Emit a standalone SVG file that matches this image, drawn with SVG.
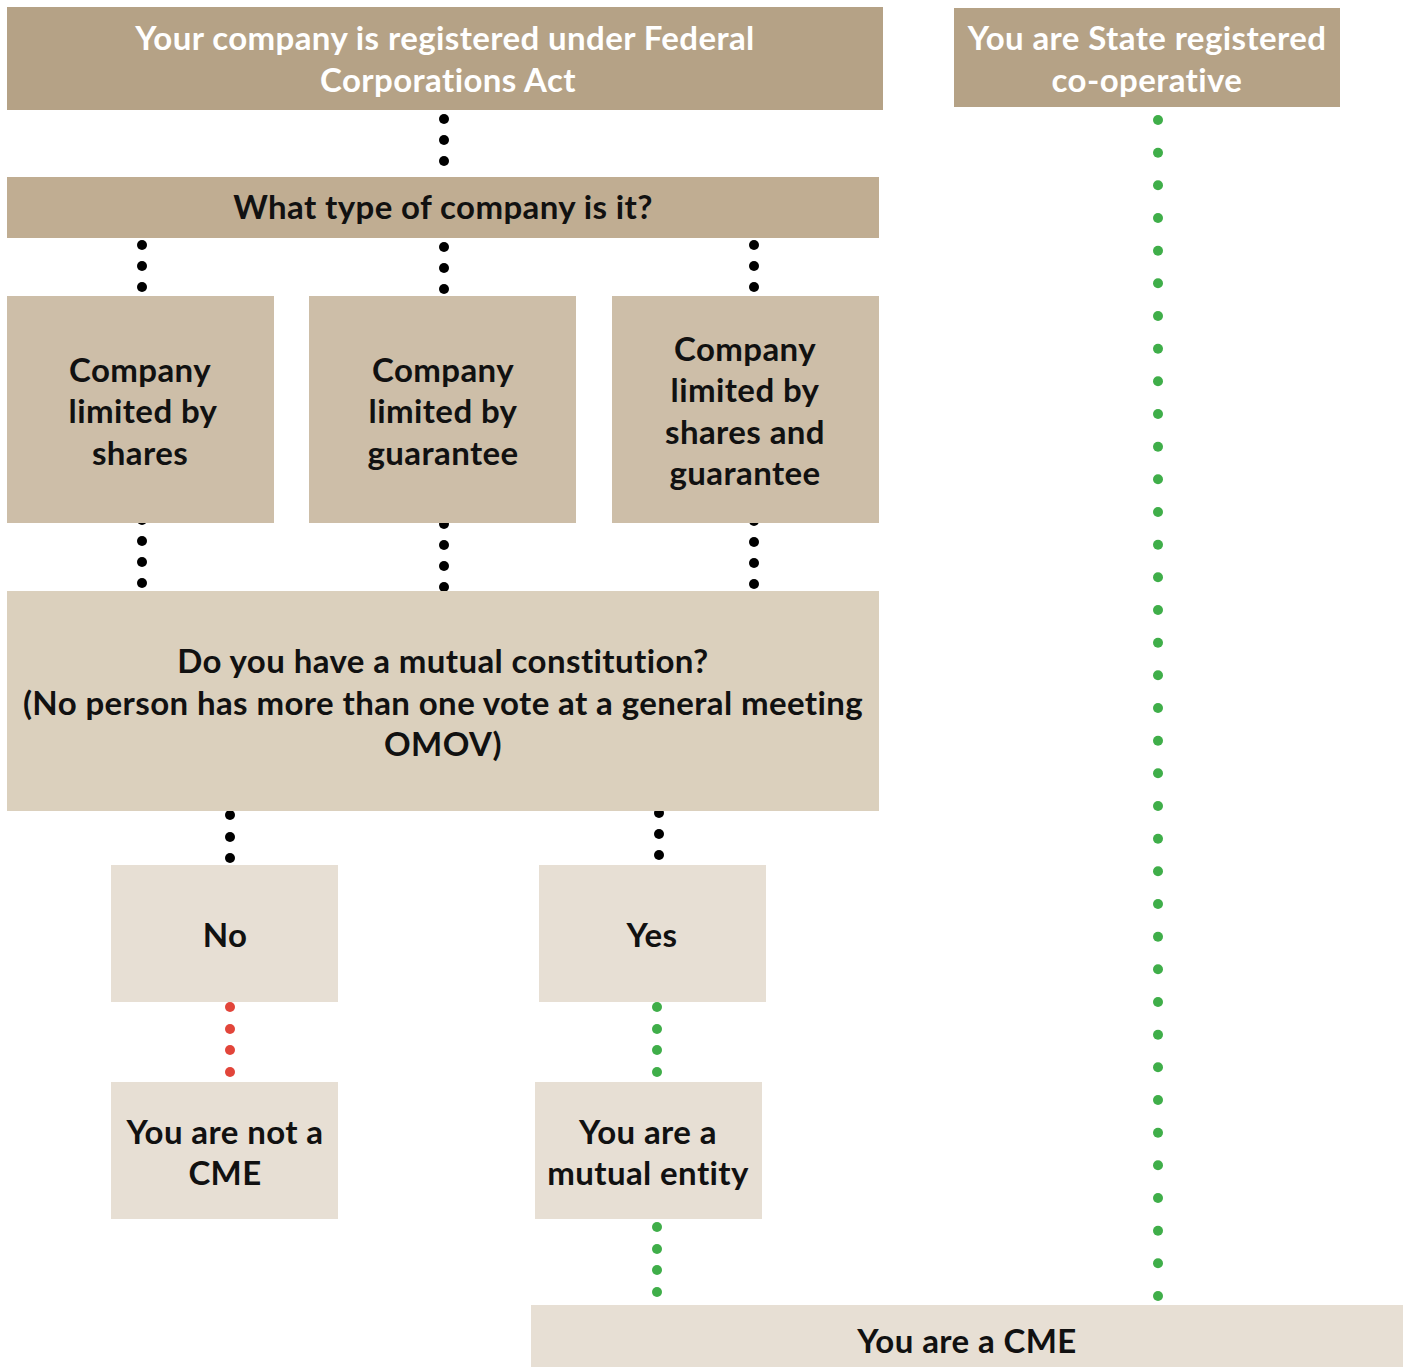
<svg xmlns="http://www.w3.org/2000/svg" width="1407" height="1367" viewBox="0 0 1407 1367">
<style>
text{font-family:Lato,"Open Sans","Liberation Sans",sans-serif;font-weight:bold;font-size:33px;letter-spacing:0.4px;text-anchor:middle;fill:#111}
.w{fill:#fff}
.c1{fill:#b5a286}.c2{fill:#c0ad92}.c3{fill:#cdbea8}.c4{fill:#dbd0bd}.c5{fill:#e7dfd4}
.k{fill:#000}.g{fill:#3fae49}.r{fill:#e2453a}
</style>
<rect width="1407" height="1367" fill="#fff"/>
<g id="connectors">
<g class="k">
<circle cx="444" cy="119" r="5"/><circle cx="444" cy="140" r="5"/><circle cx="444" cy="161" r="5"/>
<circle cx="142" cy="245" r="5"/><circle cx="142" cy="266" r="5"/><circle cx="142" cy="287" r="5"/>
<circle cx="444" cy="247" r="5"/><circle cx="444" cy="268" r="5"/><circle cx="444" cy="289" r="5"/>
<circle cx="754" cy="245" r="5"/><circle cx="754" cy="266" r="5"/><circle cx="754" cy="287" r="5"/>
<circle cx="142" cy="520" r="5"/><circle cx="142" cy="541" r="5"/><circle cx="142" cy="562" r="5"/><circle cx="142" cy="583" r="5"/>
<circle cx="444" cy="524" r="5"/><circle cx="444" cy="545" r="5"/><circle cx="444" cy="566" r="5"/><circle cx="444" cy="587" r="5"/>
<circle cx="754" cy="521" r="5"/><circle cx="754" cy="542" r="5"/><circle cx="754" cy="563" r="5"/><circle cx="754" cy="584" r="5"/>
<circle cx="230" cy="815" r="5"/><circle cx="230" cy="837" r="5"/><circle cx="230" cy="858" r="5"/>
<circle cx="659" cy="813" r="5"/><circle cx="659" cy="834" r="5"/><circle cx="659" cy="855" r="5"/>
</g>
<g class="r">
<circle cx="230" cy="1007" r="5"/><circle cx="230" cy="1029" r="5"/><circle cx="230" cy="1050" r="5"/><circle cx="230" cy="1072" r="5"/>
</g>
<g class="g">
<circle cx="657" cy="1007" r="5"/><circle cx="657" cy="1029" r="5"/><circle cx="657" cy="1050" r="5"/><circle cx="657" cy="1072" r="5"/>
<circle cx="657" cy="1227" r="5"/><circle cx="657" cy="1249" r="5"/><circle cx="657" cy="1270" r="5"/><circle cx="657" cy="1292" r="5"/>
<circle cx="1158" cy="120" r="5"/><circle cx="1158" cy="152.7" r="5"/><circle cx="1158" cy="185.3" r="5"/><circle cx="1158" cy="218" r="5"/><circle cx="1158" cy="250.7" r="5"/><circle cx="1158" cy="283.3" r="5"/><circle cx="1158" cy="316" r="5"/><circle cx="1158" cy="348.7" r="5"/><circle cx="1158" cy="381.3" r="5"/><circle cx="1158" cy="414" r="5"/><circle cx="1158" cy="446.7" r="5"/><circle cx="1158" cy="479.3" r="5"/><circle cx="1158" cy="512" r="5"/><circle cx="1158" cy="544.7" r="5"/><circle cx="1158" cy="577.3" r="5"/><circle cx="1158" cy="610" r="5"/><circle cx="1158" cy="642.7" r="5"/><circle cx="1158" cy="675.3" r="5"/><circle cx="1158" cy="708" r="5"/><circle cx="1158" cy="740.7" r="5"/><circle cx="1158" cy="773.3" r="5"/><circle cx="1158" cy="806" r="5"/><circle cx="1158" cy="838.7" r="5"/><circle cx="1158" cy="871.3" r="5"/><circle cx="1158" cy="904" r="5"/><circle cx="1158" cy="936.7" r="5"/><circle cx="1158" cy="969.3" r="5"/><circle cx="1158" cy="1002" r="5"/><circle cx="1158" cy="1034.7" r="5"/><circle cx="1158" cy="1067.3" r="5"/><circle cx="1158" cy="1100" r="5"/><circle cx="1158" cy="1132.7" r="5"/><circle cx="1158" cy="1165.3" r="5"/><circle cx="1158" cy="1198" r="5"/><circle cx="1158" cy="1230.7" r="5"/><circle cx="1158" cy="1263.3" r="5"/><circle cx="1158" cy="1296" r="5"/>
</g>
</g>
<g id="federal"><rect class="c1" x="7" y="7" width="876" height="103"/><text class="w" x="445" y="50">Your company is registered under Federal</text><text class="w" x="448" y="92">Corporations Act</text></g>
<g id="state"><rect class="c1" x="954" y="8" width="386" height="99"/><text class="w" x="1147" y="50">You are State registered</text><text class="w" x="1147" y="92">co-operative</text></g>
<g id="type"><rect class="c2" x="7" y="177" width="872" height="61"/><text x="443" y="219">What type of company is it?</text></g>
<g id="shares"><rect class="c3" x="7" y="296" width="267" height="227"/><text x="140" y="382">Company</text><text x="143" y="423">limited by</text><text x="140" y="465">shares</text></g>
<g id="guarantee"><rect class="c3" x="309" y="296" width="267" height="227"/><text x="443" y="382">Company</text><text x="443" y="423">limited by</text><text x="443" y="465">guarantee</text></g>
<g id="both"><rect class="c3" x="612" y="296" width="267" height="227"/><text x="745" y="361">Company</text><text x="745" y="402">limited by</text><text x="745" y="444">shares and</text><text x="745" y="485">guarantee</text></g>
<g id="mutual"><rect class="c4" x="7" y="591" width="872" height="220"/><text x="443" y="673">Do you have a mutual constitution?</text><text x="443" y="715">(No person has more than one vote at a general meeting</text><text x="443" y="756">OMOV)</text></g>
<g id="no"><rect class="c5" x="111" y="865" width="227" height="137"/><text x="225" y="947">No</text></g>
<g id="yes"><rect class="c5" x="539" y="865" width="227" height="137"/><text x="652" y="947">Yes</text></g>
<g id="notcme"><rect class="c5" x="111" y="1082" width="227" height="137"/><text x="225" y="1144">You are not a</text><text x="225" y="1185">CME</text></g>
<g id="mutualentity"><rect class="c5" x="535" y="1082" width="227" height="137"/><text x="648" y="1144">You are a</text><text x="648" y="1185">mutual entity</text></g>
<g id="cme"><rect class="c5" x="531" y="1305" width="872" height="62"/><text x="967" y="1353">You are a CME</text></g>
</svg>
